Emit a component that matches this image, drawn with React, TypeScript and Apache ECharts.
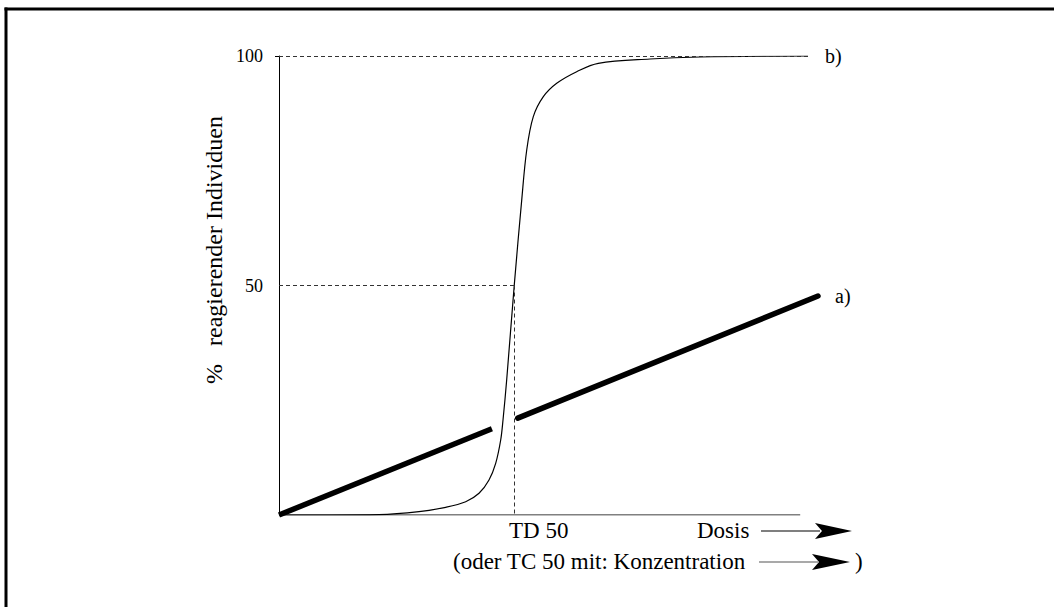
import React, { useEffect, useRef } from "react";
import * as echarts from "echarts";

const yTickValues = [50, 100];
const yTitle = "%   reagierender Individuen";
const td50 = 43.65;
const axisEndX = 96.7;
const upperGuideEnd = 98.14;
const curveB: [number, number][] = [
  [0, 0],
  [9.3, 0],
  [18.55, 0.07],
  [25.97, 0.72],
  [30.93, 1.68],
  [34.64, 2.9],
  [37.11, 4.73],
  [38.96, 7.63],
  [40.2, 11.26],
  [41.13, 16.34],
  [41.56, 20.7],
  [42.24, 29.41],
  [43.65, 50.11],
  [45.03, 68.6],
  [45.96, 79.52],
  [47.18, 86.78],
  [49.04, 91.13],
  [51.52, 94.05],
  [55.23, 96.58],
  [59.24, 98.41],
  [68.83, 99.35],
  [78.11, 99.78],
  [98.14, 100],
];
const lineALeft: [number, number][] = [
  [0, 0],
  [39.5, 18.8],
];
const lineARight: [number, number][] = [
  [44.3, 21.1],
  [100, 47.7],
];

export default function App() {
  const ref = useRef<HTMLDivElement>(null);
  useEffect(() => {
    const chart = echarts.init(ref.current!, null, { renderer: "svg" });
    const font = "'Liberation Serif', 'Times New Roman', serif";
    const dash = { type: [4, 3], color: "#333", width: 1 };
    const textStyle = (t: string, x: number, y: number, size = 23, extra: any = {}) => ({
      type: "text",
      x,
      y,
      ...extra,
      style: {
        text: t,
        fontSize: size,
        fontFamily: font,
        fill: "#000",
        align: extra.align || "left",
        verticalAlign: "middle",
      },
    });
    chart.setOption({
      animation: false,
      backgroundColor: "#fff",
      grid: { left: 279, right: 236, top: 56, bottom: 92 },
      xAxis: { type: "value", min: 0, max: 100, show: false },
      yAxis: {
        type: "value",
        min: 0,
        max: 100,
        axisLine: { show: true, lineStyle: { color: "#000", width: 1 } },
        axisTick: { show: true, customValues: [100], length: 4, lineStyle: { color: "#000" } },
        axisLabel: {
          customValues: yTickValues,
          fontSize: 18,
          fontFamily: font,
          color: "#000",
          margin: 16,
        },
        splitLine: { show: false },
      },
      series: [
        {
          type: "line",
          data: [
            [0, 0],
            [axisEndX, 0],
          ],
          symbol: "none",
          silent: true,
          lineStyle: { color: "#000", width: 1 },
          markLine: {
            silent: true,
            symbol: ["none", "none"],
            label: { show: false },
            lineStyle: dash,
            data: [
              [{ coord: [0, 100] }, { coord: [upperGuideEnd, 100] }],
              [{ coord: [0, 50] }, { coord: [td50, 50] }],
              [{ coord: [td50, 50] }, { coord: [td50, 0] }],
            ],
          },
        },
        {
          type: "line",
          data: curveB,
          symbol: "none",
          smooth: 0.35,
          lineStyle: { color: "#000", width: 1.2 },
          endLabel: {
            show: true,
            formatter: "b)",
            fontSize: 20,
            fontFamily: font,
            color: "#000",
            distance: 17,
          },
        },
        {
          type: "line",
          data: lineALeft,
          symbol: "none",
          lineStyle: { color: "#000", width: 5.5, cap: "butt" },
        },
        {
          type: "line",
          data: lineARight,
          symbol: "none",
          lineStyle: { color: "#000", width: 5.5, cap: "round" },
          endLabel: {
            show: true,
            formatter: "a)",
            fontSize: 20,
            fontFamily: font,
            color: "#000",
            distance: 17,
          },
        },
      ],
      graphic: [
        { type: "line", shape: { x1: 4.5, y1: 9, x2: 1054, y2: 9 }, style: { stroke: "#000", lineWidth: 3 } },
        { type: "line", shape: { x1: 6, y1: 7.5, x2: 6, y2: 607 }, style: { stroke: "#000", lineWidth: 3 } },
        {
          type: "text",
          x: 214,
          y: 250,
          rotation: Math.PI / 2,
          style: {
            text: yTitle,
            fontSize: 24,
            fontFamily: font,
            fill: "#000",
            align: "center",
            verticalAlign: "middle",
          },
        },
        textStyle("TD 50", 509, 530),
        textStyle("Dosis", 697, 530),
        textStyle("(oder TC 50 mit: Konzentration", 453, 561),
        textStyle(")", 855, 561),
        { type: "line", shape: { x1: 761, y1: 531, x2: 820, y2: 531 }, style: { stroke: "#000", lineWidth: 1.2 } },
        {
          type: "polygon",
          shape: { points: [[852, 531], [815, 523], [822, 531], [815, 539]] },
          style: { fill: "#000" },
        },
        { type: "line", shape: { x1: 759, y1: 562, x2: 818, y2: 562 }, style: { stroke: "#555", lineWidth: 1.2 } },
        {
          type: "polygon",
          shape: { points: [[850, 562], [812, 554], [819, 562], [812, 570]] },
          style: { fill: "#000" },
        },
      ],
    });
    return () => chart.dispose();
  }, []);
  return (
    <div
      ref={ref}
      style={{ position: "absolute", left: 0, top: 0, width: 1054, height: 607, background: "#fff" }}
    />
  );
}
